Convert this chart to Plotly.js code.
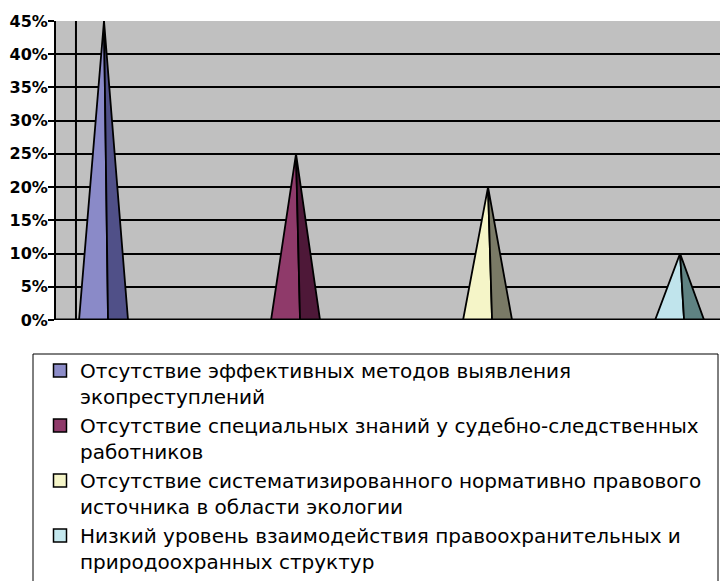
<!DOCTYPE html>
<html>
<head>
<meta charset="utf-8">
<script src="https://cdn.plot.ly/plotly-3.0.1.min.js"></script>
<style>html,body{margin:0;padding:0;background:#fff;}#chart{width:720px;height:581px;}</style>
</head>
<body>
<div id="chart"></div>
<script>
// ---- data ----
var categories = [
  "Отсутствие эффективных методов выявления<br>экопреступлений",
  "Отсутствие специальных знаний у судебно-следственных<br>работников",
  "Отсутствие систематизированного нормативно правового<br>источника в области экологии",
  "Низкий уровень взаимодействия правоохранительных и<br>природоохранных структур"
];
var values = [0.45, 0.25, 0.20, 0.10];
var tickValues = [0, 0.05, 0.10, 0.15, 0.20, 0.25, 0.30, 0.35, 0.40, 0.45];
var tickLabels = ["0%", "5%", "10%", "15%", "20%", "25%", "30%", "35%", "40%", "45%"];

// ---- styles ----
var lightColors = ["#8a8ac8", "#8f3a6a", "#f5f5c8", "#c0e4ec"];
var darkColors  = ["#505088", "#4e1838", "#7a7a66", "#5f8282"];
var legendColors = ["#8c8cc8", "#8f3a6a", "#f5f5c8", "#c4e8ee"];
var leftOff = -0.13, splitOff = 0.021, rightOff = 0.125;

var traces = [];
// legend entries
categories.forEach(function (name, i) {
  traces.push({
    type: "scatter", mode: "markers", x: [null], y: [null], name: name,
    marker: { symbol: "square", size: 13, color: legendColors[i], line: { color: "#000", width: 1.5 } },
    hoverinfo: "skip", legendgroup: "g" + i
  });
});
// pyramids
values.forEach(function (v, i) {
  traces.push({
    type: "scatter", mode: "lines", fill: "toself",
    x: [i + leftOff, i + splitOff, i, i + leftOff],
    y: [0, 0, v, 0],
    fillcolor: lightColors[i], line: { color: "#000", width: 1.8 },
    showlegend: false, hoverinfo: "skip"
  });
  traces.push({
    type: "scatter", mode: "lines", fill: "toself",
    x: [i + splitOff, i + rightOff, i, i + splitOff],
    y: [0, 0, v, 0],
    fillcolor: darkColors[i], line: { color: "#000", width: 1.8 },
    showlegend: false, hoverinfo: "skip"
  });
});

var wallX = -0.146;
var layout = {
  width: 720, height: 581,
  margin: { l: 56, r: 0, t: 21, b: 261, pad: 0, autoexpand: false },
  paper_bgcolor: "#ffffff",
  plot_bgcolor: "#c0c0c0",
  showlegend: true,
  xaxis: {
    type: "linear", range: [-0.25, 3.208], fixedrange: true,
    showgrid: false, zeroline: false, showticklabels: false, ticks: "",
    showline: false
  },
  yaxis: {
    range: [0, 0.45], fixedrange: true,
    tickvals: tickValues, ticktext: tickLabels,
    ticks: "outside", ticklen: 6, tickwidth: 2, tickcolor: "#000",
    ticklabelstandoff: -3,
    showline: true, linecolor: "#000", linewidth: 2,
    showgrid: true, gridcolor: "#000", gridwidth: 2,
    zeroline: false,
    tickfont: { family: "DejaVu Sans, sans-serif", size: 16, color: "#000", weight: "bold" }
  },
  shapes: [
    { type: "line", xref: "x", yref: "y", x0: wallX, x1: wallX, y0: 0, y1: 0.45,
      line: { color: "#000", width: 2 } },
    { type: "line", xref: "paper", yref: "y", x0: 0, x1: 1, y0: 0, y1: 0,
      line: { color: "#000", width: 3 }, layer: "above" },
    { type: "rect", xref: "paper", yref: "paper",
      x0: (33 - 56) / 664, x1: (718 - 56) / 664,
      y0: (320 - 354) / 299, y1: (320 - 590) / 299,
      line: { color: "#000", width: 1 }, fillcolor: "rgba(0,0,0,0)" }
  ],
  legend: {
    x: (40 - 56) / 664, y: (320 - 351) / 299, xanchor: "left", yanchor: "top",
    bgcolor: "rgba(0,0,0,0)", borderwidth: 0, valign: "top",
    traceorder: "normal", tracegroupgap: 7,
    font: { family: "DejaVu Sans, sans-serif", size: 20, color: "#000" }
  }
};

Plotly.newPlot("chart", traces, layout, { displayModeBar: false, staticPlot: true });
</script>
</body>
</html>
